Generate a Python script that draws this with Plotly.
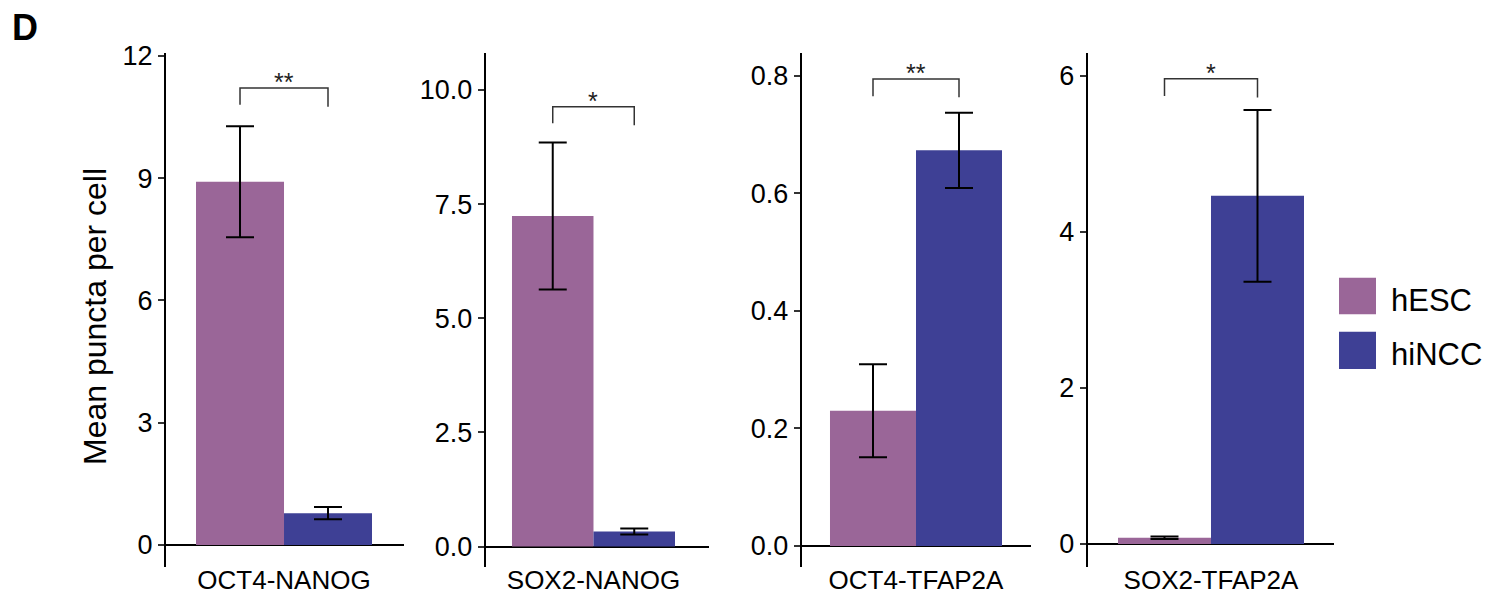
import plotly.graph_objects as go

# ---------------- data ----------------
categories = ["OCT4-NANOG", "SOX2-NANOG", "OCT4-TFAP2A", "SOX2-TFAP2A"]
groups = ["hESC", "hiNCC"]
hesc_mean = [8.91, 7.24, 0.230, 0.08]
hesc_sem = [1.36, 1.61, 0.079, 0.015]
hincc_mean = [0.78, 0.33, 0.673, 4.46]
hincc_sem = [0.15, 0.065, 0.064, 1.10]
bracket_top = [11.21, 9.63, 0.794, 5.96]
bracket_left = [10.80, 9.27, 0.765, 5.74]
bracket_right = [10.75, 9.23, 0.763, 5.72]
sig_labels = ["**", "*", "**", "*"]
tick_vals = [[0, 3, 6, 9, 12], [0, 2.5, 5, 7.5, 10], [0, 0.2, 0.4, 0.6, 0.8], [0, 2, 4, 6]]
tick_text = [["0", "3", "6", "9", "12"],
             ["0.0", "2.5", "5.0", "7.5", "10.0"],
             ["0.0", "0.2", "0.4", "0.6", "0.8"],
             ["0", "2", "4", "6"]]
y_title = "Mean puncta per cell"
panel_letter = "D"

# ---------------- layout geometry ----------------
W, H = 1489, 597
colors = {"hESC": "#9A6698", "hiNCC": "#3E4095"}
FONT = "Liberation Sans, Arial, Helvetica, sans-serif"
x_dom_px = [(166, 404), (485.7, 709), (801.7, 1031), (1087.7, 1334)]
x_ranges = [(-0.6705, 0.6818), (-0.6613, 0.7086), (-0.6645, 0.6686), (-0.6629, 0.6613)]
y_ranges = [(-0.54, 12.07), (-0.449, 10.81), (-0.0357, 0.8384), (-0.295, 6.29)]
y_dom = [1 - 567 / H, 1 - 53 / H]
bar_pos = {"hESC": -0.25, "hiNCC": 0.25}

fig = go.Figure()
layout = dict(
    width=W, height=H,
    margin=dict(l=0, r=0, t=0, b=0),
    paper_bgcolor="white", plot_bgcolor="white",
    showlegend=False,
    font=dict(family=FONT, color="black"),
    annotations=[], shapes=[],
)

for i, cat in enumerate(categories):
    xa = "x" if i == 0 else f"x{i+1}"
    ya = "y" if i == 0 else f"y{i+1}"
    for g, means, sems in (("hESC", hesc_mean, hesc_sem), ("hiNCC", hincc_mean, hincc_sem)):
        fig.add_trace(go.Bar(
            x=[bar_pos[g]], y=[means[i]], width=0.5, name=g,
            marker=dict(color=colors[g], line=dict(width=0)),
            error_y=dict(type="data", array=[sems[i]], color="black", thickness=2, width=14),
            xaxis=xa, yaxis=ya, showlegend=False,
        ))
    fig.add_trace(go.Scatter(
        x=[bar_pos["hESC"], bar_pos["hESC"], bar_pos["hiNCC"], bar_pos["hiNCC"]],
        y=[bracket_left[i], bracket_top[i], bracket_top[i], bracket_right[i]],
        mode="lines", line=dict(color="#333333", width=1.5),
        xaxis=xa, yaxis=ya, showlegend=False, hoverinfo="skip",
    ))
    layout["annotations"].append(dict(
        x=0, y=bracket_top[i], xref=xa, yref=ya, text=sig_labels[i],
        showarrow=False, yanchor="bottom", xanchor="center", yshift=-10,
        font=dict(size=25, color="#222222", family=FONT),
    ))
    d0, d1 = x_dom_px[i]
    layout["xaxis" if i == 0 else f"xaxis{i+1}"] = dict(
        domain=[d0 / W, d1 / W], range=list(x_ranges[i]), anchor=ya,
        showline=False, showgrid=False, zeroline=False, ticks="",
        tickvals=[0], ticktext=[cat], tickfont=dict(size=26, family=FONT, color="black"),
        ticklabelstandoff=-5,
        automargin=False, fixedrange=True,
    )
    layout["yaxis" if i == 0 else f"yaxis{i+1}"] = dict(
        domain=y_dom, range=list(y_ranges[i]), anchor=xa,
        showline=True, linecolor="black", linewidth=2,
        showgrid=False, zeroline=True, zerolinecolor="black", zerolinewidth=2,
        ticks="outside", ticklen=6, tickwidth=2, tickcolor="#333333",
        tickvals=tick_vals[i], ticktext=tick_text[i],
        tickfont=dict(size=27, family=FONT, color="black"),
        automargin=False, fixedrange=True,
    )

# y-axis title
layout["annotations"].append(dict(
    x=95 / W, y=1 - 317 / H, xref="paper", yref="paper", text=y_title,
    textangle=-90, showarrow=False, xanchor="center", yanchor="middle",
    font=dict(size=32, family=FONT, color="black"),
))
# panel letter
layout["annotations"].append(dict(
    x=10 / W, y=1 - 5 / H, xref="paper", yref="paper", text=f"<b>{panel_letter}</b>",
    showarrow=False, xanchor="left", yanchor="top",
    font=dict(size=36, family=FONT, color="black"),
))
# legend (manual)
leg_y = [(277.7, 314.3), (331.7, 369.0)]
for g, (t, b) in zip(groups, leg_y):
    layout["shapes"].append(dict(
        type="rect", xref="paper", yref="paper",
        x0=1339 / W, x1=1376 / W, y0=1 - b / H, y1=1 - t / H,
        fillcolor=colors[g], line=dict(width=0),
    ))
    layout["annotations"].append(dict(
        x=1389 / W, y=1 - ((t + b) / 2 + 4) / H, xref="paper", yref="paper", text=g,
        showarrow=False, xanchor="left", yanchor="middle",
        font=dict(size=31, family=FONT, color="black"),
    ))

fig.update_layout(**layout)
fig.write_html("out.html")
